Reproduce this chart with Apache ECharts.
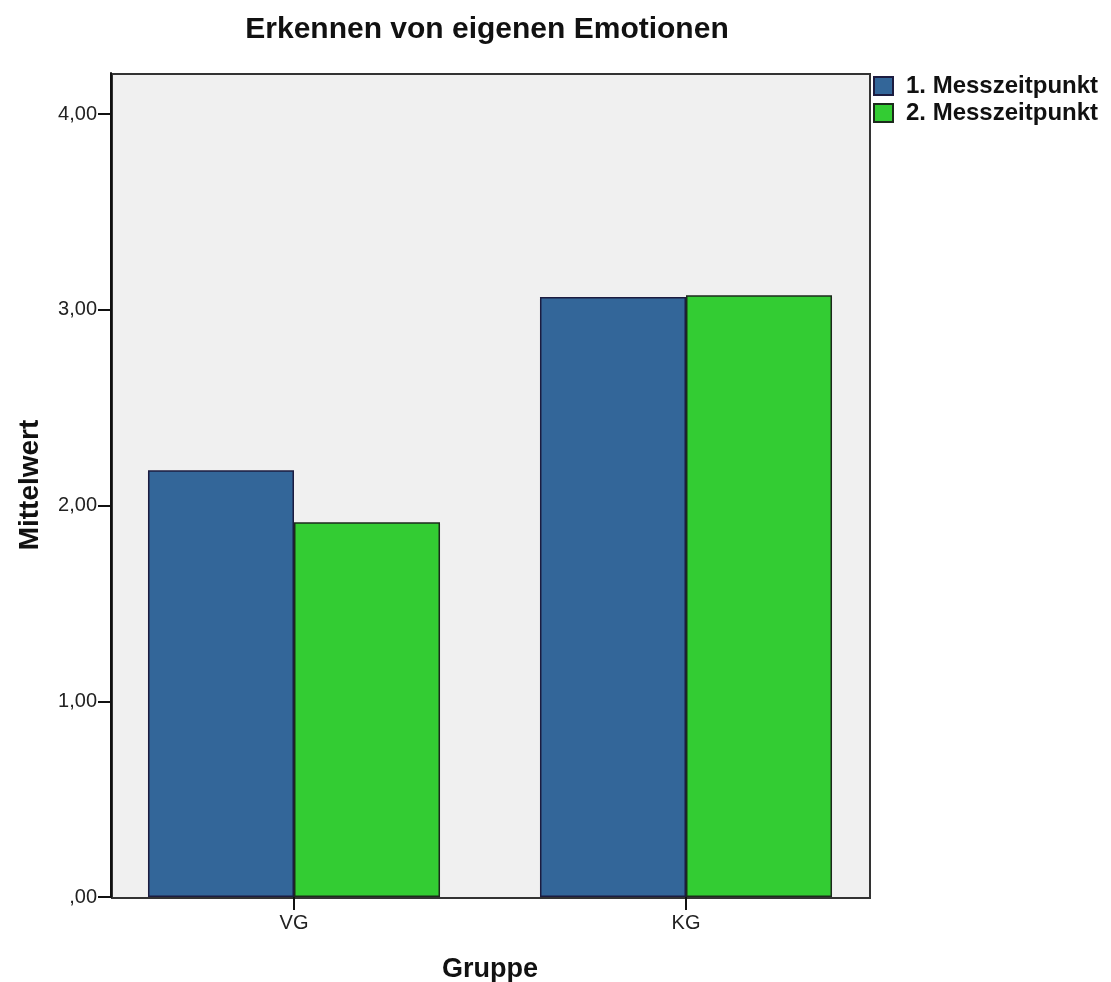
<!DOCTYPE html>
<html>
<head>
<meta charset="utf-8">
<script src="https://cdn.jsdelivr.net/npm/echarts@6/dist/echarts.min.js"></script>
<style>
  html, body { margin: 0; padding: 0; background: #fff; }
  #chart { width: 1111px; height: 982px; }
</style>
</head>
<body>
<div id="chart"></div>
<script>
// chart data
var categories = ['VG', 'KG'];
var seriesNames = ['1. Messzeitpunkt', '2. Messzeitpunkt'];
var messung1 = [2.18, 3.065];
var messung2 = [1.915, 3.075];
var yTicks = [0, 1, 2, 3, 4];

var chart = echarts.init(document.getElementById('chart'));

var fontFamily = '"Liberation Sans", Arial, sans-serif';

// plot frame (SPSS style box), the category axis is a bit wider than the frame
var frame = { left: 111, top: 73, width: 758, height: 824 };

var formatTick = function (v) {
    var s = v.toFixed(2).replace('.', ',');
    return s.indexOf('0,') === 0 ? s.substring(1) : s;
};

var option = {
    animation: false,
    title: {
        text: 'Erkennen von eigenen Emotionen',
        left: 482,
        top: 10,
        textAlign: 'center',
        textStyle: { fontFamily: fontFamily, fontSize: 30, fontWeight: 'bold', color: '#111' }
    },
    legend: {
        orient: 'vertical',
        left: 868,
        top: 69,
        itemWidth: 19,
        itemHeight: 18,
        itemGap: 3,
        icon: 'rect',
        textStyle: {
            fontFamily: fontFamily, fontSize: 24, fontWeight: 'bold', color: '#111',
            lineHeight: 24, padding: [0, 0, 0, 8]
        },
        data: seriesNames
    },
    graphic: [{
        type: 'rect',
        left: frame.left,
        top: frame.top,
        z: -1,
        silent: true,
        shape: { width: frame.width, height: frame.height },
        style: { fill: '#f0f0f0', stroke: '#333', lineWidth: 2 }
    }],
    grid: {
        left: 98,
        right: 229,
        top: 73,
        bottom: 85,
        outerBoundsMode: 'none'
    },
    xAxis: {
        type: 'category',
        data: categories,
        name: 'Gruppe',
        nameLocation: 'middle',
        nameGap: 59,
        nameTextStyle: { fontFamily: fontFamily, fontSize: 27, fontWeight: 'bold', color: '#111' },
        axisLine: { show: false },
        axisTick: { show: true, alignWithLabel: true, length: 13, lineStyle: { color: '#111', width: 2 } },
        axisLabel: { fontFamily: fontFamily, fontSize: 20, color: '#222', margin: 16 }
    },
    yAxis: {
        type: 'value',
        min: 0,
        max: 4.21,
        interval: 1,
        offset: -13,
        name: 'Mittelwert',
        nameLocation: 'middle',
        nameGap: 67,
        nameTextStyle: { fontFamily: fontFamily, fontSize: 28, fontWeight: 'bold', color: '#111' },
        axisLine: { show: true, lineStyle: { color: '#111', width: 2 } },
        axisTick: { show: true, length: 13, customValues: yTicks, lineStyle: { color: '#111', width: 2 } },
        splitLine: { show: false },
        axisLabel: {
            fontFamily: fontFamily,
            fontSize: 20,
            color: '#222',
            margin: 14,
            customValues: yTicks,
            formatter: formatTick
        }
    },
    series: [
        {
            name: seriesNames[0],
            type: 'bar',
            data: messung1,
            barGap: '0%',
            barCategoryGap: '25.5%',
            itemStyle: { color: '#336699', borderColor: '#1c1c40', borderWidth: 1.5 }
        },
        {
            name: seriesNames[1],
            type: 'bar',
            data: messung2,
            barGap: '0%',
            barCategoryGap: '25.5%',
            itemStyle: { color: '#33cc33', borderColor: '#1c2a1c', borderWidth: 1.5 }
        }
    ]
};

chart.setOption(option);
</script>
</body>
</html>
